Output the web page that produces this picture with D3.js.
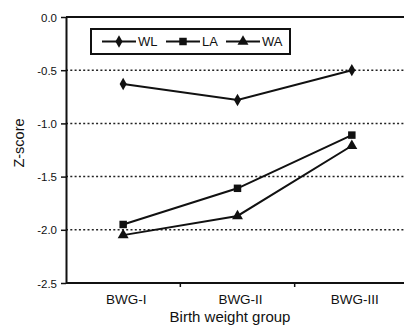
<!DOCTYPE html>
<html>
<head>
<meta charset="utf-8">
<title>z-score by birth weight group</title>
<script src="https://d3js.org/d3.v7.min.js"></script>
<style>
  body { margin: 0; background: #fff; }
  text { font-family: "Liberation Sans", Arial, sans-serif; fill: #111; }
</style>
</head>
<body>
<script>
const groups = ["BWG-I", "BWG-II", "BWG-III"];
const wl = [-0.63, -0.78, -0.50];
const la = [-1.95, -1.61, -1.11];
const wa = [-2.05, -1.87, -1.21];
const yTicks = [0, -0.5, -1.0, -1.5, -2.0, -2.5];

const width = 404, height = 326;
const plotLeft = 66, plotTop = 17, plotBottom = 283;
const plotRight = 409;

const svg = d3.select("body").append("svg")
    .attr("width", width).attr("height", height);

const x = d3.scaleBand().domain(groups).range([plotLeft, plotRight]);
const y = d3.scaleLinear().domain([-2.5, 0]).range([plotBottom, plotTop]);

// dotted gridlines
svg.append("g").selectAll("line")
    .data(yTicks.filter(d => d < 0 && d > -2.5))
    .join("line")
    .attr("x1", plotLeft).attr("x2", width)
    .attr("y1", d => y(d)).attr("y2", d => y(d))
    .attr("stroke", "#222").attr("stroke-width", 1.5)
    .attr("stroke-dasharray", "2,2.3");

// top frame
svg.append("line")
    .attr("x1", plotLeft).attr("x2", width)
    .attr("y1", y(0)).attr("y2", y(0))
    .attr("stroke", "#111").attr("stroke-width", 2);

// y axis
const yAxis = d3.axisLeft(y).tickValues(yTicks).tickSize(5).tickSizeOuter(0);
const yg = svg.append("g").attr("transform", `translate(${plotLeft},0)`).call(yAxis);
yg.select(".domain").attr("stroke", "#111").attr("stroke-width", 2);
yg.selectAll(".tick line").attr("stroke", "#111").attr("stroke-width", 1.5);
yg.selectAll(".tick text").style("font-size", "11.5px").attr("x", -9).attr("dy", "0.35em")
    .text(d => d3.format(".1f")(d).replace("−", "-"));

// x axis
const xg = svg.append("g").attr("transform", `translate(0,${plotBottom})`);
xg.append("line").attr("x1", plotLeft).attr("x2", width).attr("y1", 0).attr("y2", 0)
    .attr("stroke", "#111").attr("stroke-width", 2);
xg.selectAll(".tk").data(groups.slice(1)).join("line")
    .attr("x1", d => x(d)).attr("x2", d => x(d))
    .attr("y1", 0).attr("y2", 4)
    .attr("stroke", "#111").attr("stroke-width", 1.5);
xg.selectAll(".lbl").data(groups).join("text")
    .attr("x", d => x(d) + x.bandwidth() / 2 + 3)
    .attr("y", 21)
    .attr("text-anchor", "middle")
    .style("font-size", "13.5px")
    .text(d => d);

// axis titles
svg.append("text")
    .attr("x", 230).attr("y", 322)
    .attr("text-anchor", "middle")
    .style("font-size", "15px")
    .text("Birth weight group");
svg.append("text")
    .attr("transform", `translate(24,143) rotate(-90)`)
    .attr("text-anchor", "middle")
    .style("font-size", "14.5px")
    .text("Z-score");

// series
const series = [
  { name: "WL", values: wl, shape: d3.symbolDiamond, size: 44 },
  { name: "LA", values: la, shape: d3.symbolSquare, size: 56 },
  { name: "WA", values: wa, shape: d3.symbolTriangle, size: 52 }
];

const line = d3.line()
    .x((d, i) => x(groups[i]) + x.bandwidth() / 2)
    .y(d => y(d));

series.forEach(s => {
  svg.append("path")
      .datum(s.values)
      .attr("fill", "none")
      .attr("stroke", "#111")
      .attr("stroke-width", 2)
      .attr("d", line);
  svg.append("g").selectAll("path")
      .data(s.values)
      .join("path")
      .attr("transform", (d, i) => `translate(${x(groups[i]) + x.bandwidth() / 2},${y(d)})`)
      .attr("d", d3.symbol().type(s.shape).size(s.size))
      .attr("fill", "#111");
});

// legend
const lg = svg.append("g");
lg.append("rect")
    .attr("x", 91).attr("y", 29).attr("width", 199).attr("height", 25)
    .attr("fill", "#fff").attr("stroke", "#111").attr("stroke-width", 2);
const legX = [102, 166, 226];
series.forEach((s, i) => {
  const g = lg.append("g").attr("transform", `translate(${legX[i]},41.5)`);
  g.append("line").attr("x1", 0).attr("x2", 34).attr("stroke", "#111").attr("stroke-width", 2);
  g.append("path").attr("transform", "translate(17,0)")
      .attr("d", d3.symbol().type(s.shape).size(s.size)).attr("fill", "#111");
  g.append("text").attr("x", 36).attr("dy", "0.35em")
      .style("font-size", "13px").text(s.name);
});
</script>
</body>
</html>
